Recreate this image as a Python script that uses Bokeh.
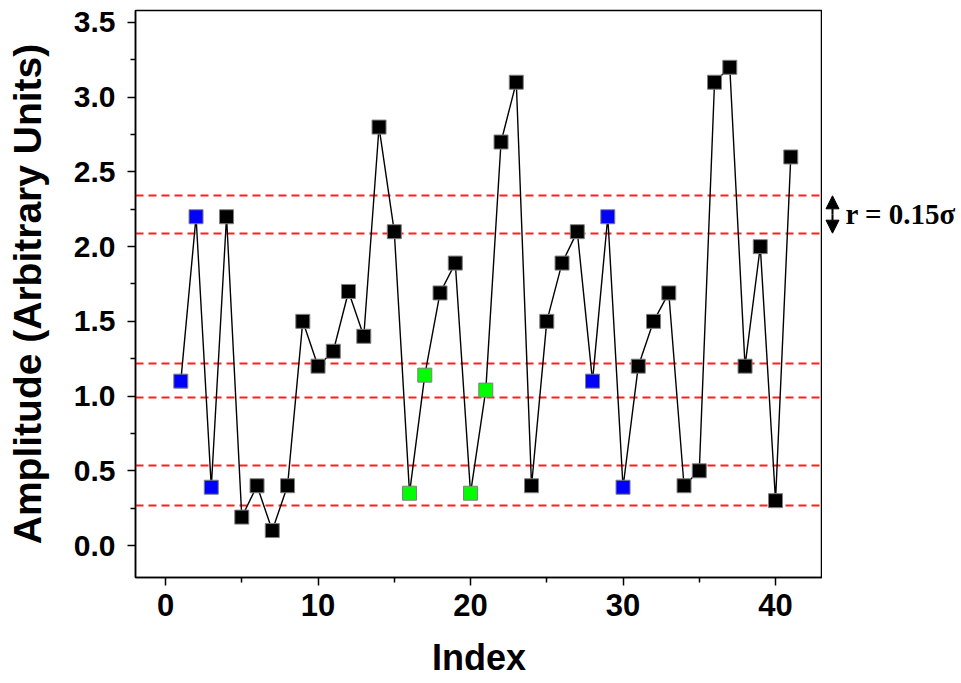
from bokeh.plotting import figure
from bokeh.layouts import row
from bokeh.models import (Arrow, NormalHead, Label, ColumnDataSource,
                          Range1d, FixedTicker, PrintfTickFormatter)
from bokeh.embed import file_html
from bokeh.resources import INLINE

# Sample index and measured amplitude
index = list(range(1, 42))
amplitude = [1.10, 2.20, 0.39, 2.20, 0.19, 0.40, 0.10, 0.40, 1.50, 1.20,
             1.30, 1.70, 1.40, 2.80, 2.10, 0.35, 1.14, 1.69, 1.89, 0.35,
             1.04, 2.70, 3.10, 0.40, 1.50, 1.89, 2.10, 1.10, 2.20, 0.39,
             1.20, 1.50, 1.69, 0.40, 0.50, 3.10, 3.20, 1.20, 2.00, 0.30,
             2.60]

# Highlighted matching patterns
blue_idx = [1, 2, 3, 28, 29, 30]
green_idx = [16, 17, 20, 21]

# Tolerance bands (r = 0.15 sigma) around the template values
band_levels = [2.34, 2.09, 1.22, 0.99, 0.535, 0.27]

# Arrow marking one band width and its caption
band_arrow_top = 2.34
band_arrow_bottom = 2.09
band_caption = "r = 0.15σ"

x_ticks = [0, 10, 20, 30, 40]
x_minor = [5, 15, 25, 35]
y_ticks = [0.0, 0.5, 1.0, 1.5, 2.0, 2.5, 3.0, 3.5]

colors = []
for i in index:
    if i in blue_idx:
        colors.append("#0000ff")
    elif i in green_idx:
        colors.append("#00ff00")
    else:
        colors.append("#000000")

src = ColumnDataSource(dict(x=index, y=amplitude, c=colors))
y_range = Range1d(-0.214, 3.58)

TOP, BOTTOM = 10, 106

p = figure(width=822, height=683, output_backend="svg", toolbar_location=None,
           x_range=Range1d(-1.97, 43.08), y_range=y_range,
           min_border_left=135, min_border_right=0,
           min_border_top=TOP, min_border_bottom=BOTTOM)

p.background_fill_color = "white"
p.border_fill_color = "white"
p.outline_line_color = "black"
p.outline_line_width = 1.5
p.xgrid.visible = False
p.ygrid.visible = False

# Dashed tolerance band lines
for lvl in band_levels:
    p.hspan(y=lvl, line_color="#ff1f1f", line_width=1.8, line_dash="8 5")

p.line("x", "y", source=src, line_color="black", line_width=1.4)
p.scatter("x", "y", source=src, marker="square", size=14,
          fill_color="c", line_color="#808080", line_width=1)

# Axes styling
for ax in (p.xaxis[0], p.yaxis[0]):
    ax.axis_line_width = 1.5
    ax.major_tick_line_width = 1.5
    ax.minor_tick_line_width = 1.5
    ax.major_tick_out = 8
    ax.major_tick_in = 0
    ax.minor_tick_out = 5
    ax.minor_tick_in = 0
    ax.major_label_text_font = "Liberation Sans"
    ax.major_label_text_font_style = "bold"
    ax.major_label_text_color = "black"
    ax.axis_label_text_font = "Liberation Sans"
    ax.axis_label_text_font_style = "bold"
    ax.axis_label_text_color = "black"

p.xaxis.ticker = FixedTicker(ticks=x_ticks, minor_ticks=x_minor)
p.yaxis.ticker = FixedTicker(ticks=y_ticks,
                             minor_ticks=[t + 0.25 for t in y_ticks[:-1]])
p.yaxis.formatter = PrintfTickFormatter(format="%.1f")

p.xaxis.major_label_text_font_size = "31px"
p.yaxis.major_label_text_font_size = "30px"
p.xaxis.major_label_standoff = 8
p.yaxis.major_label_standoff = 12
p.xaxis.axis_label = "Index"
p.yaxis.axis_label = "Amplitude (Arbitrary Units)"
p.xaxis.axis_label_text_font_size = "36px"
p.yaxis.axis_label_text_font_size = "39px"
p.xaxis.axis_label_standoff = 18
p.yaxis.axis_label_standoff = 22

# Side panel holding the band-width marker, sharing the vertical scale
side = figure(width=139, height=683, output_backend="svg",
              toolbar_location=None, x_range=Range1d(0, 139), y_range=y_range,
              x_axis_type=None, y_axis_type=None,
              min_border_left=0, min_border_right=0,
              min_border_top=TOP, min_border_bottom=BOTTOM)
side.outline_line_color = None
side.background_fill_color = "white"
side.border_fill_color = "white"
side.xgrid.visible = False
side.ygrid.visible = False

mid = (band_arrow_top + band_arrow_bottom) / 2
for tip in (band_arrow_top, band_arrow_bottom):
    side.add_layout(Arrow(x_start=10, y_start=mid, x_end=10, y_end=tip,
                          line_color="black", line_width=2,
                          end=NormalHead(size=13, fill_color="black",
                                         line_color="black")))
side.add_layout(Label(x=23, y=mid,
                      text=band_caption, text_font="Liberation Serif",
                      text_font_style="bold", text_font_size="29px",
                      text_baseline="middle", text_align="left",
                      text_color="black"))

layout = row(p, side, spacing=0)
open("out.html", "w").write(file_html(layout, INLINE))
